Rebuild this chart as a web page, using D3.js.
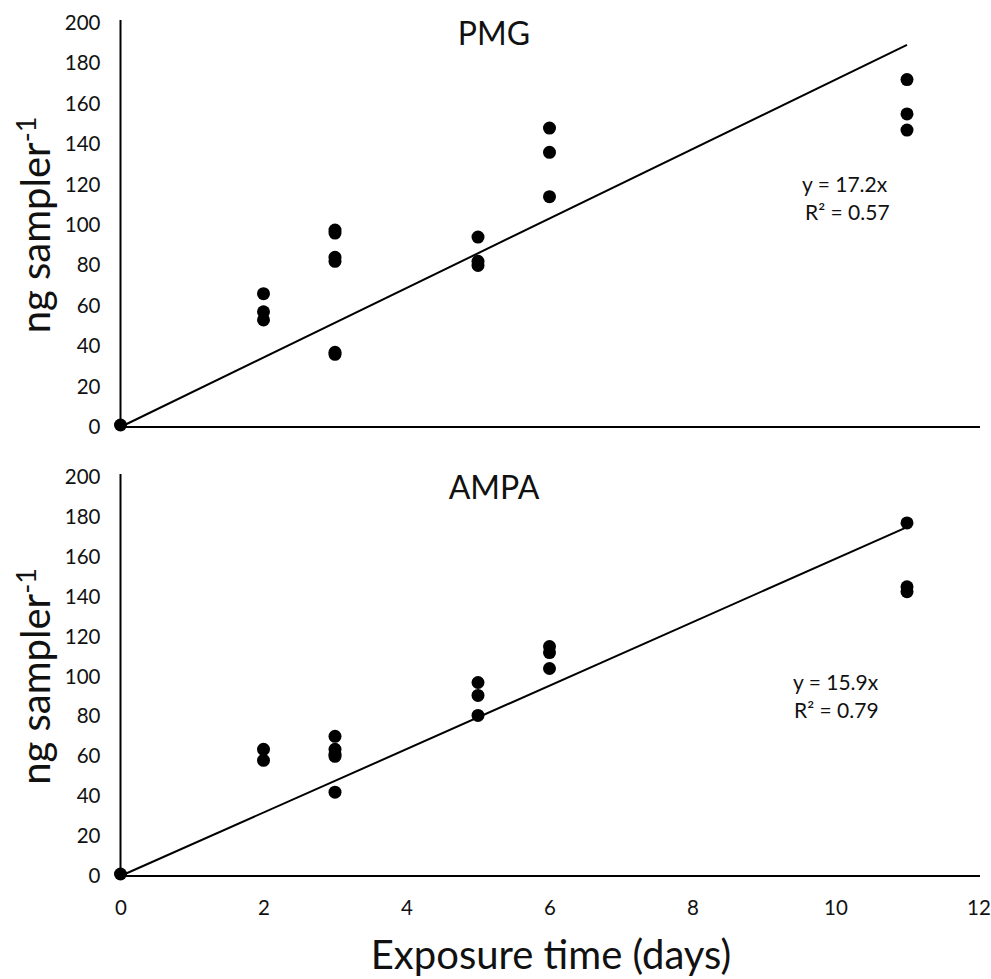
<!DOCTYPE html>
<html><head><meta charset="utf-8">
<script src="https://cdn.jsdelivr.net/npm/d3@7"></script>
<style>body{margin:0;background:#fff}svg{display:block}text{font-family:Lato,"Open Sans",sans-serif;fill:#111}</style>
</head><body><svg id="c" width="991" height="979"></svg>
<script>
const xTicks = [0,2,4,6,8,10,12];
const yTicks = [0,20,40,60,80,100,120,140,160,180,200];
const pmgX = [0,2,2,2,3,3,3,3,3,3,5,5,5,6,6,6,11,11,11];
const pmgY = [1,66,57,53,97.5,96,84,82,37,36,94,82,80,148,136,114,172,155,147];
const ampaX = [0,2,2,3,3,3,3,3,5,5,5,6,6,6,11,11,11];
const ampaY = [1,63.5,58,70,63.5,61,60,42,97,90.5,80.5,115,112,104,177,145,142.5];
const panels = [
  {title:"PMG", xs:pmgX, ys:pmgY, slope:17.2, r2:"0.57", top:23, bottom:427, eqX:802, eqY:192, rX:805},
  {title:"AMPA", xs:ampaX, ys:ampaY, slope:15.9, r2:"0.79", top:477, bottom:876, eqX:793, eqY:690, rX:794}
];
const svg = d3.select("#c");
const x = d3.scaleLinear().domain([0,12]).range([120.5,978.5]);
panels.forEach((p,i)=>{
  const y = d3.scaleLinear().domain([0,200]).range([p.bottom,p.top]);
  const g = svg.append("g");
  const ya = g.append("g").attr("transform",`translate(${x(0)},0)`)
    .call(d3.axisLeft(y).tickValues(yTicks).tickSize(0).tickPadding(20));
  ya.select(".domain").attr("stroke","#000").attr("stroke-width",2).attr("d",`M0,${p.top-3}V${p.bottom}`);
  ya.selectAll("text").style("font-size","20.5px").attr("fill","#111");
  const xa = g.append("g").attr("transform",`translate(0,${p.bottom})`)
    .call(d3.axisBottom(x).tickValues(xTicks).tickSize(0).tickPadding(24));
  xa.select(".domain").attr("stroke","#000").attr("stroke-width",2).attr("d",`M${x(0)},0H980`);
  xa.selectAll("text").style("font-size","20.5px").attr("fill","#111");
  if(i===0) xa.selectAll("text").remove();
  g.append("line").attr("x1",x(0)).attr("y1",y(0)).attr("x2",x(11)).attr("y2",y(p.slope*11))
    .attr("stroke","#000").attr("stroke-width",2);
  g.selectAll("circle").data(p.xs.map((d,j)=>[d,p.ys[j]])).enter().append("circle")
    .attr("cx",d=>x(d[0])).attr("cy",d=>y(d[1])).attr("r",6.5).attr("fill","#000");
  g.append("text").attr("x",494).attr("y",p.top+22).attr("text-anchor","middle").style("font-size","32px").text(p.title);
  g.append("text").attr("x",p.eqX).attr("y",p.eqY).style("font-size","21px").text(`y = ${p.slope}x`);
  g.append("text").attr("x",p.rX).attr("y",p.eqY+28).style("font-size","21px").text(`R² = ${p.r2}`);
  const cy = (p.top+p.bottom)/2;
  const t = g.append("text").attr("transform",`translate(50,${cy}) rotate(-90)`).attr("text-anchor","middle").style("font-size","40px");
  t.append("tspan").text("ng sampler");
  t.append("tspan").attr("dy",-14).style("font-size","27px").text("-1");
});
svg.append("text").attr("x",551).attr("y",969).attr("text-anchor","middle").style("font-size","40px").text("Exposure time (days)");
</script></body></html>
